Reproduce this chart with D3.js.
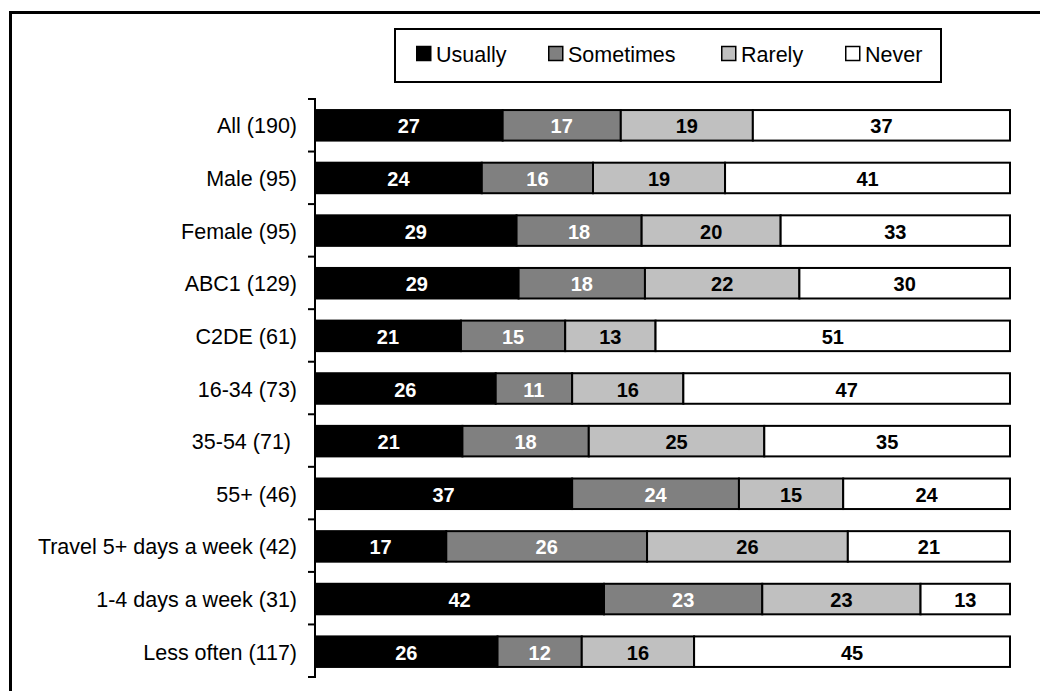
<!DOCTYPE html>
<html><head><meta charset="utf-8">
<script src="https://cdn.jsdelivr.net/npm/d3@7"></script>
<style>body{margin:0;background:#fff}svg{display:block;font-family:"Liberation Sans",Arial,sans-serif}</style>
</head><body>
<svg id="c" width="1040" height="691"></svg>
<script>
const categories = ["All (190)","Male (95)","Female (95)","ABC1 (129)","C2DE (61)","16-34 (73)","35-54 (71)\u00a0","55+ (46)","Travel 5+ days a week (42)","1-4 days a week (31)","Less often (117)"];
const seriesNames = ["Usually","Sometimes","Rarely","Never"];
const usually   = [27,24,29,29,21,26,21,37,17,42,26];
const sometimes = [17,16,18,18,15,11,18,24,26,23,12];
const rarely    = [19,19,20,22,13,16,25,15,26,23,16];
const never     = [37,41,33,30,51,47,35,24,21,13,45];
const colors = ["#000000","#808080","#c0c0c0","#ffffff"];
const labelColors = ["#ffffff","#ffffff","#000000","#000000"];

const rows = categories.map((c,i)=>({cat:c, Usually:usually[i], Sometimes:sometimes[i], Rarely:rarely[i], Never:never[i]}));
const stack = d3.stack().keys(seriesNames).offset(d3.stackOffsetExpand);
const layers = stack(rows);

const svg = d3.select("#c");
// outer frame
svg.append("rect").attr("x",10.5).attr("y",12.5).attr("width",1050).attr("height",700)
  .attr("fill","none").attr("stroke","#000").attr("stroke-width",3);

const x = d3.scaleLinear().domain([0,1]).range([315,1010]);
const y = d3.scaleBand().domain(categories).range([99,678]).paddingInner(0.42).paddingOuter(0.21);

const g = svg.append("g");
layers.forEach((layer,si)=>{
  const lg = g.append("g");
  lg.selectAll("rect").data(layer).join("rect")
    .attr("x",d=>x(d[0])).attr("y",d=>y(d.data.cat))
    .attr("width",d=>x(d[1])-x(d[0])).attr("height",y.bandwidth())
    .attr("fill",colors[si]).attr("stroke","#000").attr("stroke-width",2);
  lg.selectAll("text").data(layer).join("text")
    .attr("x",d=>(x(d[0])+x(d[1]))/2).attr("y",d=>y(d.data.cat)+y.bandwidth()/2+1)
    .attr("text-anchor","middle").attr("dominant-baseline","central")
    .attr("font-size",20).attr("font-weight","bold").attr("fill",labelColors[si])
    .text(d=>d.data[seriesNames[si]]);
});

// y axis
const ax = svg.append("g");
ax.append("line").attr("x1",315).attr("x2",315).attr("y1",99).attr("y2",678).attr("stroke","#000").attr("stroke-width",2);
d3.range(categories.length+1).forEach(i=>{
  const yy = 99 + i*(578/categories.length);
  ax.append("line").attr("x1",308).attr("x2",316).attr("y1",yy).attr("y2",yy).attr("stroke","#000").attr("stroke-width",2);
});
ax.selectAll("text.cat").data(categories).join("text").attr("class","cat")
  .attr("x",297).attr("y",d=>y(d)+y.bandwidth()/2+1).attr("text-anchor","end").attr("dominant-baseline","central")
  .attr("font-size",21.5).attr("fill","#000").text(d=>d);

// legend
const lgd = svg.append("g");
lgd.append("rect").attr("x",395).attr("y",29).attr("width",546).attr("height",53).attr("fill","#fff").attr("stroke","#000").attr("stroke-width",2);
const legX = [416,548,721,845];
seriesNames.forEach((n,i)=>{
  lgd.append("rect").attr("x",legX[i]+0.75).attr("y",46.5).attr("width",14).attr("height",14)
    .attr("fill",colors[i]).attr("stroke","#000").attr("stroke-width",1.5);
  lgd.append("text").attr("x",legX[i]+20).attr("y",55).attr("dominant-baseline","central")
    .attr("font-size",21.5).attr("fill","#000").text(n);
});
</script>
</body></html>
